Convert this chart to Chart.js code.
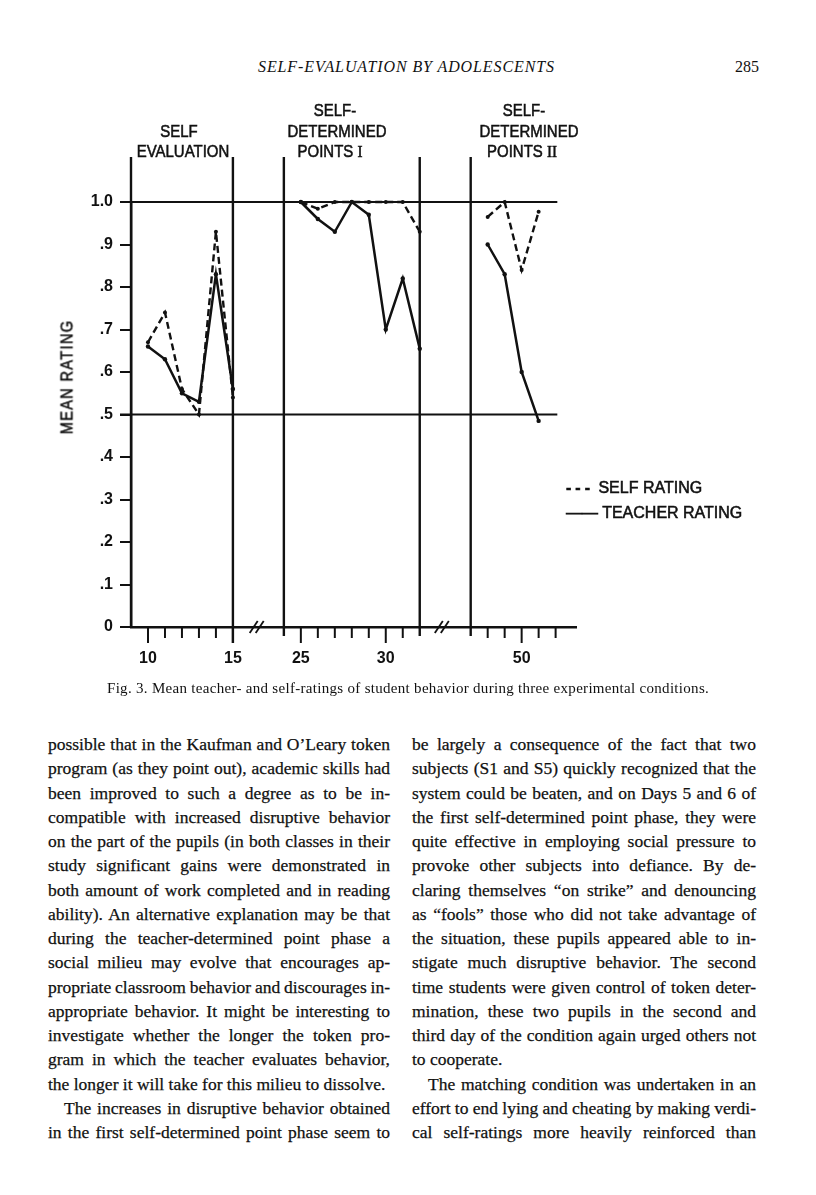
<!DOCTYPE html>
<html>
<head>
<meta charset="utf-8">
<title>Self-evaluation by adolescents, Fig. 3</title>
<script src="https://cdn.jsdelivr.net/npm/chart.js@4.4.0/dist/chart.umd.min.js"></script>
<style>
  html,body{margin:0;padding:0;background:#fff;}
  #page{position:relative;width:816px;height:1195px;overflow:hidden;background:#fff;color:#111;}
  #chartBox{position:absolute;left:0;top:0;width:816px;height:700px;}
  .t{position:absolute;white-space:nowrap;line-height:1;}
  .sans{font-family:"Liberation Sans",Arial,sans-serif;}
  .serif{font-family:"Liberation Serif","Times New Roman",serif;}
  .ink{-webkit-text-stroke:0.55px #111;}
  .hd{font-size:17px;transform:translate(-50%,-50%) scaleX(.88);}
  .col{position:absolute;top:732px;}
  .col div{height:24.25px;line-height:24.25px;white-space:nowrap;font-family:"Liberation Serif","Times New Roman",serif;font-size:17.5px;-webkit-text-stroke:0.25px #111;}
</style>
</head>
<body>
<div id="page">
  <div class="t serif" style="left:258px;top:59px;font-size:16px;font-style:italic;letter-spacing:0.9px;">SELF-EVALUATION BY ADOLESCENTS</div>
  <div class="t serif" style="left:735px;top:59px;font-size:16px;">285</div>

  <div id="chartBox"><canvas id="fig3" width="816" height="700"></canvas></div>

  <!-- phase headings -->
  <div class="t sans hd ink" style="left:179px;top:131px;">SELF</div>
  <div class="t sans hd ink" style="left:183px;top:151px;">EVALUATION</div>
  <div class="t sans hd ink" style="left:335px;top:110px;">SELF-</div>
  <div class="t sans hd ink" style="left:337px;top:131px;">DETERMINED</div>
  <div class="t sans hd ink" style="left:330px;top:151px;">POINTS <span class="serif">I</span></div>
  <div class="t sans hd ink" style="left:524px;top:110px;">SELF-</div>
  <div class="t sans hd ink" style="left:529px;top:131px;">DETERMINED</div>
  <div class="t sans hd ink" style="left:522px;top:151px;">POINTS <span class="serif">II</span></div>

  <div class="t sans ink" style="left:67px;top:377px;font-size:17px;letter-spacing:1.5px;transform:translate(-50%,-50%) rotate(-90deg) scaleX(.86);">MEAN RATING</div>

  <!-- legend -->
  <div class="t sans ink" style="left:566px;top:480px;font-size:16px;"><span style="font-weight:bold;letter-spacing:4px;">---</span> SELF RATING</div>
  <div class="t sans ink" style="left:566px;top:505px;font-size:16px;">—— TEACHER RATING</div>

  <div class="t serif" style="left:107px;top:681px;font-size:15px;letter-spacing:0.3px;">Fig. 3. Mean teacher- and self-ratings of student behavior during three experimental conditions.</div>

  <div class="col" id="colLeft" style="left:48px;width:342px;"></div>
  <div class="col" id="colRight" style="left:412px;width:344px;"></div>
</div>

<script>
// session numbers (x) and mean ratings (y), one set per experimental phase
const sessions1 = [10, 11, 12, 13, 14, 15];
const teacher1  = [0.66, 0.63, 0.55, 0.53, 0.83, 0.56];
const self1     = [0.67, 0.74, 0.56, 0.50, 0.93, 0.54];

const sessions2 = [25, 26, 27, 28, 29, 30, 31, 32];
const teacher2  = [1.00, 0.96, 0.93, 1.00, 0.97, 0.70, 0.82, 0.655];
const self2     = [1.00, 0.984, 1.00, 1.00, 1.00, 1.00, 1.00, 0.93];

const sessions3 = [48, 49, 50, 51];
const teacher3  = [0.90, 0.83, 0.60, 0.485];
const self3     = [0.965, 1.00, 0.84, 0.977];

const xTickSessions = [10, 15, 25, 30, 50];
const xTickLabels   = ['10', '15', '25', '30', '50'];
const minorTickSessions = [11, 12, 13, 14, 26, 27, 28, 29, 31, 48, 49, 51, 52];
const yTickLabels = ['0', '.1', '.2', '.3', '.4', '.5', '.6', '.7', '.8', '.9', '1.0'];
const refLines = [1.0, 0.5];

const ink = '#111';

// broken axis: the two skipped stretches of sessions are drawn as 3-unit gaps
function pos(s){
  if(s <= 15) return s;
  if(s <= 32) return s - 6;
  return s - 18;
}

function series(groups){
  const out = [];
  groups.forEach(([xs, ys], i)=>{
    if(i) out.push({x: pos(xs[0]) - 0.5, y: null});
    xs.forEach((s, j)=> out.push({x: pos(s), y: ys[j]}));
  });
  return out;
}

const decor = {
  id: 'decor',
  afterDraw(chart){
    const {ctx, scales:{x, y}} = chart;
    const X = v => x.getPixelForValue(v), Y = v => y.getPixelForValue(v);
    const y0 = Y(0), top = Y(1) - 45;
    ctx.save();
    ctx.strokeStyle = ink;
    ctx.lineCap = 'butt';

    // phase walls (the first one is the y axis)
    ctx.lineWidth = 2.4;
    [[9,0],[15,16],[24,9],[32,9],[47,9]].forEach(([s, drop])=>{
      ctx.beginPath(); ctx.moveTo(X(pos(s)), top); ctx.lineTo(X(pos(s)), y0 + drop); ctx.stroke();
    });

    // reference lines at 1.0 and .5
    ctx.lineWidth = 2;
    refLines.forEach(v=>{
      ctx.beginPath(); ctx.moveTo(X(9) - 11, Y(v)); ctx.lineTo(X(34.1), Y(v)); ctx.stroke();
    });

    // x tick marks
    ctx.lineWidth = 2;
    minorTickSessions.forEach(s=>{
      ctx.beginPath(); ctx.moveTo(X(pos(s)), y0); ctx.lineTo(X(pos(s)), y0 + 11); ctx.stroke();
    });
    xTickSessions.forEach(s=>{
      ctx.beginPath(); ctx.moveTo(X(pos(s)), y0); ctx.lineTo(X(pos(s)), y0 + 16); ctx.stroke();
    });

    // axis breaks
    ctx.lineWidth = 1.8;
    [16.4, 27.3].forEach(p=>{
      const cx = X(p);
      [-3, 3].forEach(d=>{
        ctx.beginPath(); ctx.moveTo(cx + d - 4, y0 + 6); ctx.lineTo(cx + d + 4, y0 - 6); ctx.stroke();
      });
    });
    ctx.restore();
  }
};

Chart.defaults.font.family = '"Liberation Sans", Arial, sans-serif';
Chart.defaults.color = ink;

new Chart(document.getElementById('fig3'), {
  type: 'line',
  data: {
    datasets: [
      {
        label: 'SELF RATING',
        data: series([[sessions1, self1], [sessions2, self2], [sessions3, self3]]),
        borderColor: ink, backgroundColor: ink, borderWidth: 2.4,
        borderDash: [7, 4], pointRadius: 2, pointBorderWidth: 0,
        tension: 0, spanGaps: false, clip: false
      },
      {
        label: 'TEACHER RATING',
        data: series([[sessions1, teacher1], [sessions2, teacher2], [sessions3, teacher3]]),
        borderColor: ink, backgroundColor: ink, borderWidth: 2.5,
        pointRadius: 2.2, pointBorderWidth: 0,
        tension: 0, spanGaps: false, clip: false
      }
    ]
  },
  options: {
    responsive: false,
    animation: false,
    events: [],
    layout: { padding: { left: 40, right: 240, top: 202, bottom: 13 } },
    plugins: { legend: { display: false }, tooltip: { enabled: false } },
    scales: {
      x: {
        type: 'linear', min: 9, max: 35.2,
        grid: { display: false, drawTicks: false },
        border: { display: true, color: ink, width: 2.4 },
        afterBuildTicks: sc => { sc.ticks = xTickSessions.map(s=>({ value: pos(s) })); },
        afterFit: sc => { sc.height = 60; },
        ticks: {
          autoSkip: false, maxRotation: 0, padding: 22,
          font: { size: 16, weight: 'bold' },
          callback: (v, i) => xTickLabels[i]
        }
      },
      y: {
        min: 0, max: 1,
        afterBuildTicks: sc => { sc.ticks = yTickLabels.map((_, i)=>({ value: i / 10 })); },
        afterFit: sc => { sc.width = 91; },
        grid: { drawOnChartArea: false, drawTicks: true, tickLength: 11, color: ink, lineWidth: 2 },
        border: { display: true, color: ink, width: 2.4 },
        ticks: {
          padding: 7,
          font: { size: 16, weight: 'bold' },
          callback: (v, i) => yTickLabels[i]
        }
      }
    }
  },
  plugins: [decor]
});

// body text, set line by line: j = justified, e = paragraph end, i = indented first line
const leftLines = [
  ['possible that in the Kaufman and O\u2019Leary token', 'j'],
  ['program (as they point out), academic skills had', 'j'],
  ['been improved to such a degree as to be in-', 'j'],
  ['compatible with increased disruptive behavior', 'j'],
  ['on the part of the pupils (in both classes in their', 'j'],
  ['study significant gains were demonstrated in', 'j'],
  ['both amount of work completed and in reading', 'j'],
  ['ability). An alternative explanation may be that', 'j'],
  ['during the teacher-determined point phase a', 'j'],
  ['social milieu may evolve that encourages ap-', 'j'],
  ['propriate classroom behavior and discourages in-', 'j'],
  ['appropriate behavior. It might be interesting to', 'j'],
  ['investigate whether the longer the token pro-', 'j'],
  ['gram in which the teacher evaluates behavior,', 'j'],
  ['the longer it will take for this milieu to dissolve.', 'e'],
  ['The increases in disruptive behavior obtained', 'i'],
  ['in the first self-determined point phase seem to', 'j']
];
const rightLines = [
  ['be largely a consequence of the fact that two', 'j'],
  ['subjects (S1 and S5) quickly recognized that the', 'j'],
  ['system could be beaten, and on Days 5 and 6 of', 'j'],
  ['the first self-determined point phase, they were', 'j'],
  ['quite effective in employing social pressure to', 'j'],
  ['provoke other subjects into defiance. By de-', 'j'],
  ['claring themselves \u201Con strike\u201D and denouncing', 'j'],
  ['as \u201Cfools\u201D those who did not take advantage of', 'j'],
  ['the situation, these pupils appeared able to in-', 'j'],
  ['stigate much disruptive behavior. The second', 'j'],
  ['time students were given control of token deter-', 'j'],
  ['mination, these two pupils in the second and', 'j'],
  ['third day of the condition again urged others not', 'j'],
  ['to cooperate.', 'e'],
  ['The matching condition was undertaken in an', 'i'],
  ['effort to end lying and cheating by making verdi-', 'j'],
  ['cal self-ratings more heavily reinforced than', 'j']
];

function setColumn(id, lines){
  const col = document.getElementById(id);
  const width = col.getBoundingClientRect().width;
  lines.forEach(([text, kind])=>{
    const row = document.createElement('div');
    const span = document.createElement('span');
    span.textContent = text;
    row.appendChild(span);
    if(kind === 'i') row.style.paddingLeft = '16px';
    col.appendChild(row);
    if(kind === 'e') return;
    const avail = width - (kind === 'i' ? 16 : 0);
    const gaps = (text.match(/ /g) || []).length;
    const extra = avail - span.getBoundingClientRect().width;
    if(gaps) span.style.wordSpacing = (extra / gaps) + 'px';
  });
}
setColumn('colLeft', leftLines);
setColumn('colRight', rightLines);
</script>
</body>
</html>
